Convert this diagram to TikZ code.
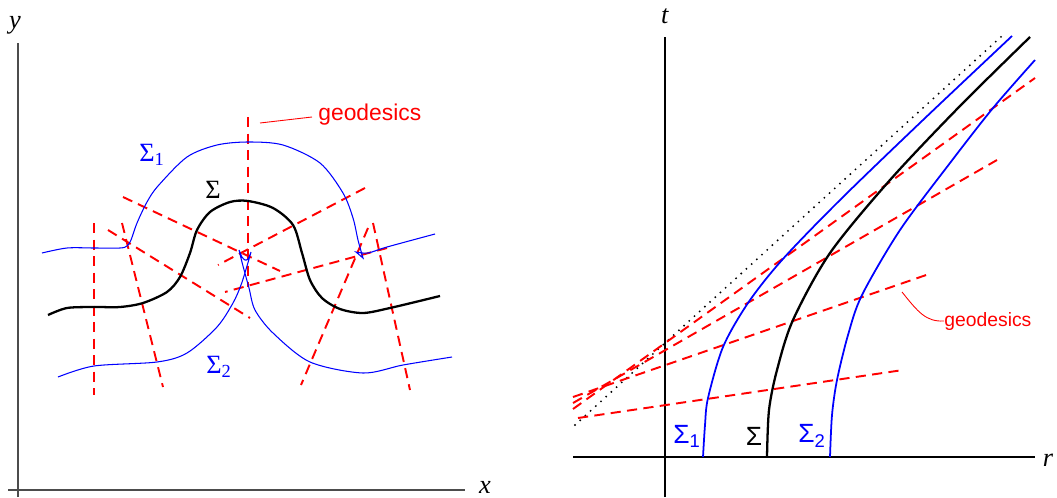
\documentclass[tikz,border=0pt]{standalone}
\usepackage{fontspec}
\setmainfont{Liberation Serif}
\newfontfamily\arialfont{Liberation Sans}
\tikzset{
  axis/.style={line width=0.7pt},
  surf/.style={black,line width=1.3pt},
  surfa/.style={blue,line width=0.6pt},
  surfb/.style={blue,line width=1pt},
  geod/.style={red,line width=1.1pt,dash pattern=on 5.8pt off 3.6pt},
  lead/.style={red,line width=0.5pt},
  lbl/.style={inner sep=0pt,font=\fontsize{15}{15}\selectfont},
  glbl/.style={red,inner sep=0pt,anchor=west},
}
\begin{document}
\begin{tikzpicture}[x=0.02cm,y=-0.02cm]
\useasboundingbox (0,0) rectangle (1057,497);

\coordinate (Ytop) at (18,43);
\coordinate (Ybot) at (18,497);
\coordinate (Xl) at (8,490);
\coordinate (Xr) at (465,490);
\node[lbl](Y) at (15,25){\textit{y}};
\node[lbl](X) at (485,487){\textit{x}};
\draw[axis,black!70](Ybot)--(Ytop);
\draw[axis,black!70](Xl)--(Xr);

\draw[geod](94,223)--(94,395);
\draw[geod](122,223)--(163,387);
\draw[geod](108,230)--(250,318);
\draw[geod](123,197)--(280,271);
\draw[geod](248,117)--(248,287);
\draw[geod](365,188)--(218,265);
\draw[geod](387,248)--(225,292);
\draw[geod](368,228)--(301,385);
\draw[geod](373,223)--(410,390);

\draw[surf] plot[smooth] coordinates {(48,315) (67,308) (94,307) (120,307) (143,303) (167,292) (180,277) (190,253) (197,230) (210,212) (230,202) (248,201) (273,208) (293,225) (302,253) (310,280) (322,298) (340,309) (363,313) (390,308) (440,296)};

\draw[surfa] plot[smooth] coordinates {(42,253) (67,248) (94,248) (120,248) (127,246) (131,240) (137,223) (147,202) (158,186) (187,157) (217,145) (248,142) (283,145) (320,163) (343,193) (353,218) (358,240) (363,258)}
  -- (356,252) -- plot[smooth] coordinates {(356,252) (368,253) (387,247) (435,234)};

\draw[surfa] plot[smooth] coordinates {(58,377) (94,366) (157,362) (187,353) (217,327) (233,303) (241,285) (247,266) (251,252)}
  plot[smooth] coordinates {(251,252) (248,259) (245,260) (242,257) (239,250)}
  plot[smooth] coordinates {(239,250) (243,266) (249,288) (255,310) (273,333) (310,362) (363,373) (403,365) (452,357)};

\node[lbl,blue](S1) at (152,155){Σ\textsubscript{1}};
\node[lbl](S) at (213,190){Σ};
\node[lbl,blue](S2) at (219,367){Σ\textsubscript{2}};

\node[glbl,font=\arialfont\fontsize{13}{13}\selectfont](geoL) at (318,115){geodesics};
\coordinate (gL) at (260,123);
\draw[lead](gL)--(312,117);

\coordinate (Ttop) at (665,37);
\coordinate (Tbot) at (665,497);
\coordinate (Rl) at (573,457);
\coordinate (Rr) at (1035,457);
\node[lbl](T) at (665,16){\textit{t}};
\node[lbl](R) at (1048,460){\textit{r}};
\draw[axis](Tbot)--(Ttop);
\draw[axis](Rl)--(Rr);

\draw[line width=1.2pt,line cap=round,dash pattern=on 0pt off 4pt](575,425)--(1003,35);

\draw[geod](578,418)--(903,370);
\draw[geod](573,397)--(932,273);
\draw[geod](573,403)--(997,160);
\draw[geod](573,409)--(1035,78);

\draw[surfb] plot[smooth] coordinates {(703,457) (705,425) (708,398) (723,347) (748,303) (782,260) (840,200) (923,120) (1012,36)};
\draw[surf] plot[smooth] coordinates {(767,457) (769,410) (777,370) (793,320) (830,253) (890,180) (960,106) (1030,37)};
\draw[surfb] plot[smooth] coordinates {(830,457) (832,415) (837,380) (848,335) (862,295) (900,230) (950,163) (993,108) (1035,60)};

\node[lbl,blue,font=\arialfont\fontsize{15}{15}\selectfont](R1) at (687,436){Σ\textsubscript{1}};
\node[lbl,font=\arialfont\fontsize{15}{15}\selectfont](R0) at (754,436){Σ};
\node[lbl,blue,font=\arialfont\fontsize{15}{15}\selectfont](R2) at (812,436){Σ\textsubscript{2}};

\node[glbl,font=\arialfont\fontsize{11}{11}\selectfont](geoR) at (944,321){geodesics};
\coordinate (gR) at (902,292);
\draw[lead](gR) .. controls (918,312) and (926,322) .. (geoR.west);
\end{tikzpicture}
\end{document}
